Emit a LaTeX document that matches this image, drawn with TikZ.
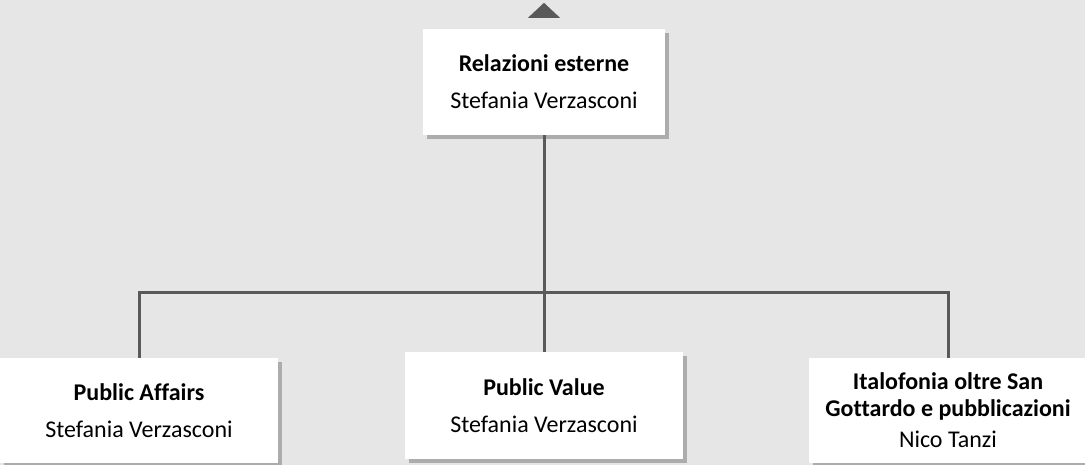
\documentclass[tikz,border=0pt]{standalone}
\usepackage{fontspec}
\setmainfont{Carlito}[Ligatures=NoCommon]
\usetikzlibrary{shadows}
\definecolor{bgrey}{HTML}{E6E6E6}
\definecolor{lgrey}{HTML}{595959}
\begin{document}
\begin{tikzpicture}[x=1pt,y=1pt]

        \fill[bgrey] (0,0) rectangle (1085,-465);
        \useasboundingbox (0,0) rectangle (1085,-465);

        \begin{scope}[every node/.style={fill=white,inner sep=0pt,align=center,
            font=\fontsize{24}{27}\selectfont,
            drop shadow={shadow xshift=4pt,shadow yshift=-4pt,fill=black,opacity=.25}}]
          \node[minimum width=242,minimum height=106] (ext) at (544,-82)
            {\textbf{Relazioni esterne}\\[10pt]Stefania Verzasconi};
          \node[minimum width=278,minimum height=105] (pa) at (139,-410.5)
            {\textbf{Public Affairs}\\[10pt]Stefania Verzasconi};
          \node[minimum width=278,minimum height=107] (pv) at (544,-405.5)
            {\textbf{Public Value}\\[10pt]Stefania Verzasconi};
          \node[minimum width=278,minimum height=105] (it) at (948,-410.5)
            {\textbf{Italofonia oltre San}\\\textbf{Gottardo e pubblicazioni}\\[4pt]Nico Tanzi};
        \end{scope}

        \coordinate (bar) at (0,-293);

        \begin{scope}[lgrey,line width=3pt]
          \path (ext.south) edge (pv.north);
          \draw (pa.north) |- (bar -| ext.south) -| (it.north);
          \fill ([yshift=26pt]ext.north) -- ([xshift=-16pt,yshift=11pt]ext.north)
            -- ([xshift=16pt,yshift=11pt]ext.north) -- cycle;
        \end{scope}

      \end{tikzpicture}
\end{document}
